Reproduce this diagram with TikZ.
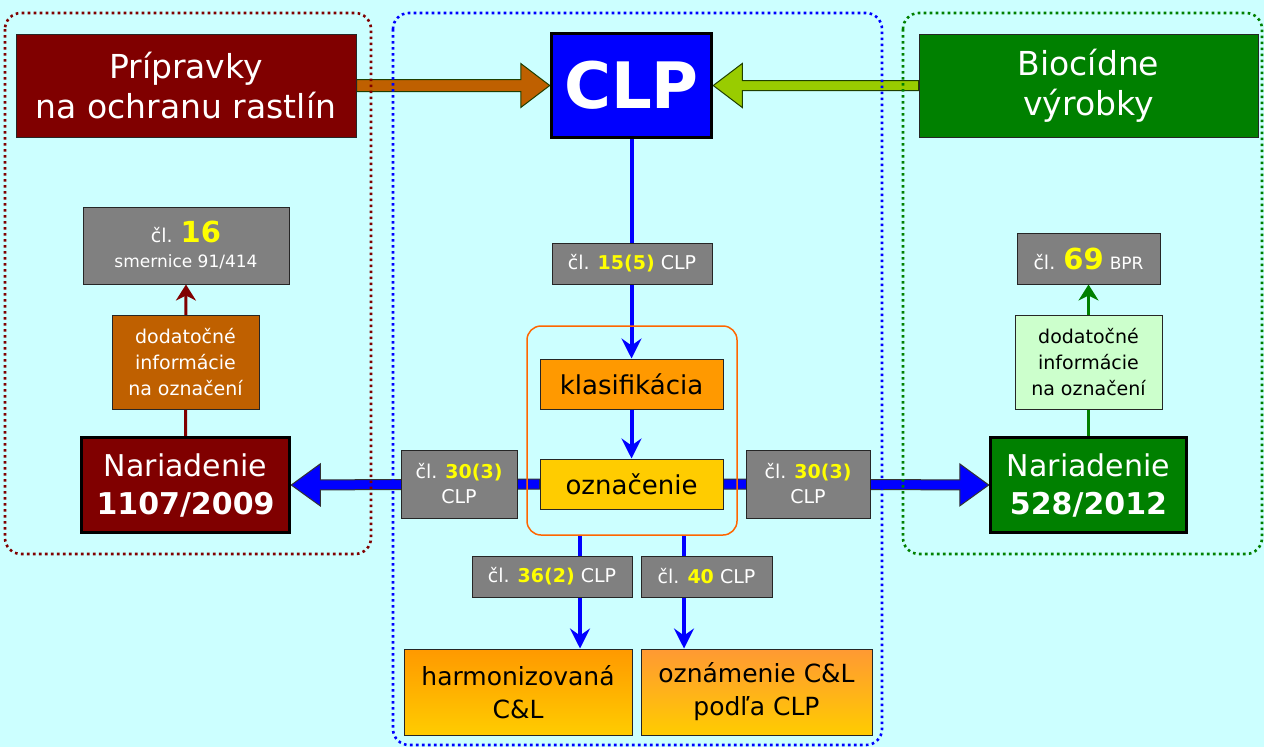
\documentclass[tikz,border=0pt]{standalone}
\usepackage{fontspec}
\setmainfont{DejaVu Sans}
\usetikzlibrary{positioning,calc,arrows.meta,backgrounds}

\definecolor{bgcyan}{HTML}{CCFFFF}
\definecolor{darkred}{HTML}{800000}
\definecolor{rustbrown}{HTML}{BF6000}
\definecolor{leafgreen}{HTML}{008000}
\definecolor{limegreen}{HTML}{99CC00}
\definecolor{palegreen}{HTML}{CCFFCC}
\definecolor{clporange}{HTML}{FF9900}
\definecolor{clporangeb}{HTML}{FF9933}
\definecolor{clpyellow}{HTML}{FFCC00}
\definecolor{edgegreen}{HTML}{1F3F00}
\definecolor{lblgray}{HTML}{808080}
\definecolor{lblyellow}{HTML}{FFFF00}
\definecolor{framered}{HTML}{FF6600}

\tikzset{
  box/.style={draw=black!85, line width=1pt, align=center, text=white, inner sep=0pt},
  thickbox/.style={box, draw=black, line width=3.5pt},
  lbl/.style={draw=black!85, fill=lblgray, line width=1pt, text=white, align=center,
    inner sep=0pt, font=\fontsize{19}{25}\selectfont},
  frame/.style={line width=2.6pt, dash pattern=on 2.6pt off 3.4pt, rounded corners=16pt},
  flow/.style={draw=blue, line width=4pt, -{Stealth[length=20pt,width=20pt,inset=7pt]}},
  side/.style={line width=3pt, -{Stealth[length=16pt,width=20pt,inset=5pt]}},
}
\newcommand{\num}[1]{{\bfseries\color{lblyellow}#1}}
% fat block arrow: style, from, tip, shaft half width, head half width
\newcommand{\fatarrow}[5]{%
  \filldraw[#1] ($(#2)+(0,-#4)$) -- ($(#3)!29pt!(#2)+(0,-#4)$) -- ($(#3)!29pt!(#2)+(0,-#5)$)
    -- (#3) -- ($(#3)!29pt!(#2)+(0,#5)$) -- ($(#3)!29pt!(#2)+(0,#4)$) -- ($(#2)+(0,#4)$) -- cycle;}

\begin{document}
\begin{tikzpicture}[x=1pt,y=-1pt]
\path[use as bounding box] (0,0) rectangle (1264,747);

% top row
\node (prip) [box, fill=darkred, minimum width=340, minimum height=103,
  font=\fontsize{33}{40}\selectfont] at (186,85.5) {Prípravky\\na ochranu rastlín};
\node (clp) [thickbox, fill=blue, minimum width=160, minimum height=104,
  font=\fontsize{64}{64}\bfseries] at (631.5,85.5) {CLP};
\node (bio) [box, fill=leafgreen, minimum width=339, minimum height=103,
  font=\fontsize{33}{40}\selectfont] at (1088.5,85.5) {Biocídne\\výrobky};

% center column
\node (l155) [lbl, minimum width=160, minimum height=41] at (632,263.5) {čl. \num{15(5)} CLP};
\node (klas) [box, fill=clporange, text=black, minimum width=183, minimum height=50,
  font=\fontsize{26}{30}\selectfont] at (631.5,384) {klasifikácia};
\node (ozn) [box, fill=clpyellow, text=black, minimum width=183, minimum height=50,
  font=\fontsize{26}{30}\selectfont] at (631.5,484) {označenie};
\node (grp) [draw=framered, line width=1.5pt, rounded corners=14pt,
  minimum width=210, minimum height=209] at (632,430.5) {};
\node (l30a) [lbl, minimum width=116, minimum height=68] at (459,484) {čl. \num{30(3)}\\CLP};
\node (l30b) [lbl, minimum width=124, minimum height=68] at (808,484) {čl. \num{30(3)}\\CLP};
\node (l362) [lbl, minimum width=160, minimum height=41] at (552,576.5) {čl. \num{36(2)} CLP};
\node (l40) [lbl, minimum width=131, minimum height=41] at (706.5,576.5) {čl. \num{40} CLP};
\node (harm) [box, top color=clporange, bottom color=clpyellow, text=black,
  minimum width=228, minimum height=86, font=\fontsize{25}{33}\selectfont]
  at (518,692) {harmonizovaná\\C\&L};
\node (ozn2) [box, top color=clporangeb, bottom color=clpyellow, text=black,
  minimum width=231, minimum height=86, font=\fontsize{25}{33}\selectfont]
  at (756.5,692) {oznámenie C\&L\\podľa CLP};

% left column
\node (l16) [lbl, minimum width=206, minimum height=77] at (186,245.5)
  {čl. {\fontsize{29}{29}\selectfont\num{16}}\\{\fontsize{17}{22}\selectfont smernice 91/414}};
\node (dodL) [box, fill=rustbrown, minimum width=147, minimum height=94,
  font=\fontsize{19}{26}\selectfont] at (185.5,362) {dodatočné\\informácie\\na označení};
\node (n1107) [thickbox, fill=darkred, minimum width=208, minimum height=95,
  font=\fontsize{30}{38}\selectfont] at (185.5,485) {Nariadenie\\\textbf{1107/2009}};

% right column
\node (l69) [lbl, minimum width=143, minimum height=51] at (1088.5,258.5)
  {čl. {\fontsize{29}{29}\selectfont\num{69}} {\fontsize{17}{17}\selectfont BPR}};
\node (dodR) [box, fill=palegreen, text=black, minimum width=147, minimum height=94,
  font=\fontsize{19}{26}\selectfont] at (1088.5,362) {dodatočné\\informácie\\na označení};
\node (n528) [thickbox, fill=leafgreen, minimum width=196, minimum height=95,
  font=\fontsize{30}{38}\selectfont] at (1088.5,485) {Nariadenie\\\textbf{528/2012}};

\begin{scope}[on background layer]
\fill[bgcyan] (0,0) rectangle (1264,747);
% block arrows
\fatarrow{fill=rustbrown, draw=edgegreen, line width=1pt}{prip.east}{clp.west}{6}{22}
\fatarrow{fill=limegreen, draw=edgegreen, line width=1pt}{bio.west}{clp.east}{5}{22}
\fatarrow{fill=blue, draw=black!80, line width=1pt}{ozn.west}{n1107.east}{5}{21}
\fatarrow{fill=blue, draw=black!80, line width=1pt}{ozn.east}{n528.west}{5}{21}
% thin arrows
\draw[flow] (clp.south) -- (klas.north);
\draw[flow] (klas.south) -- (ozn.north);
\coordinate (a1) at ($(grp.south)+(-52,0)$);
\coordinate (a2) at ($(grp.south)+(52,0)$);
\draw[flow] (a1) -- (a1 |- harm.north);
\draw[flow] (a2) -- (a2 |- ozn2.north);
\draw[side, draw=darkred] (n1107.north) -- (l16.south);
\draw[side, draw=leafgreen] (n528.north) -- (l69.south);
% dotted frames
\draw[frame, draw=darkred] (5,13) rectangle (371,554);
\draw[frame, draw=blue] (393,13) rectangle (882,745);
\draw[frame, draw=leafgreen] (903,13) rectangle (1262,554);
\end{scope}
\end{tikzpicture}
\end{document}
